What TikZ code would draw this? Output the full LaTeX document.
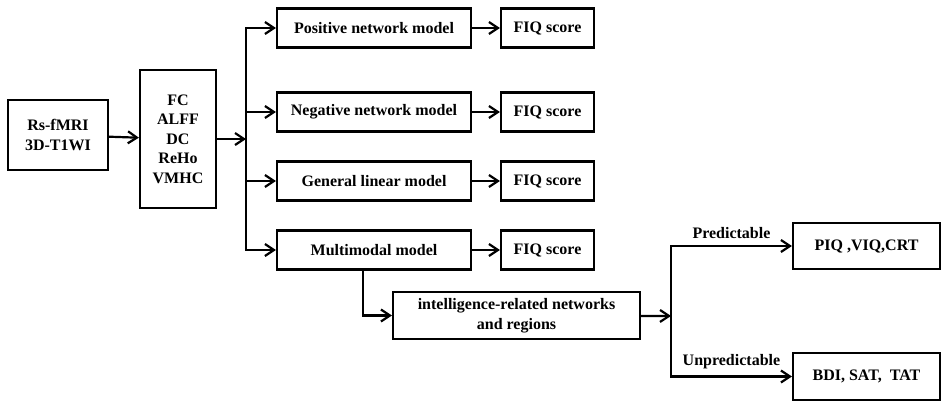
\documentclass[tikz,border=0pt]{standalone}
\usepackage{fontspec}
\setmainfont{Liberation Serif}
\usetikzlibrary{arrows.meta}

\begin{document}
\begin{tikzpicture}[x=1pt, y=-1pt,
        caja/.style={draw, line width=2.2pt, inner sep=0pt, align=center,
            font=\fontsize{16}{19.5}\selectfont\bfseries},
        flecha/.style={line width=2.2pt, -{Straight Barb[length=9pt, width=12pt]}}]
    \useasboundingbox (0,0) rectangle (943,410);

    % Datos de entrada y medidas
    \node[caja, minimum width=100pt, minimum height=70pt] (rs) at (58,135) {Rs-fMRI\\3D-T1WI};
    \node[caja, minimum width=76pt, minimum height=138pt] (feat) at (178,139) {FC\\ALFF\\DC\\ReHo\\VMHC};

    % Cuatro modelos, cada uno con su puntuacion
    \foreach \n/\y/\t in {pos/28/Positive network model, neg/112/Negative network model,
                          glm/181/General linear model, multi/250/Multimodal model} {
        \node[caja, minimum width=194pt, minimum height=39pt] (\n) at (374,\y) {\t};
        \node[caja, minimum width=93pt, minimum height=39pt] (fiq\n) at (547.5,\y) {FIQ score};
        \draw[flecha] (\n) -- (fiq\n);
    }

    % Resultados del modelo multimodal
    \node[caja, minimum width=247pt, minimum height=47pt] (intel) at (516.5,315.5)
        {intelligence-related networks\\and regions};
    \node[caja, minimum width=147pt, minimum height=46pt] (piq) at (866.5,246) {PIQ ,VIQ,CRT};
    \node[caja, minimum width=147pt, minimum height=47pt] (bdi) at (866.5,376.5) {BDI, SAT,\ \ TAT};

    % Conexiones
    \coordinate (tr) at (246,139);
    \coordinate (sp) at (671,316);
    \draw[flecha] (rs) -- (feat);
    \draw[flecha] (feat) -- (tr);
    \foreach \n in {pos,neg,glm,multi}
        \draw[flecha] (tr) |- (\n.west);
    \draw[flecha] ([xshift=-11pt]multi.south) |- (intel.west);
    \draw[flecha] (intel) -- (sp);
    \draw[flecha] (sp) |- (piq.west)
        node[pos=0.75, above=3pt, font=\fontsize{16}{19.5}\selectfont\bfseries] {Predictable};
    \draw[flecha] (sp) |- (bdi.west)
        node[pos=0.75, above=3pt, font=\fontsize{16}{19.5}\selectfont\bfseries] {Unpredictable};
\end{tikzpicture}
\end{document}
